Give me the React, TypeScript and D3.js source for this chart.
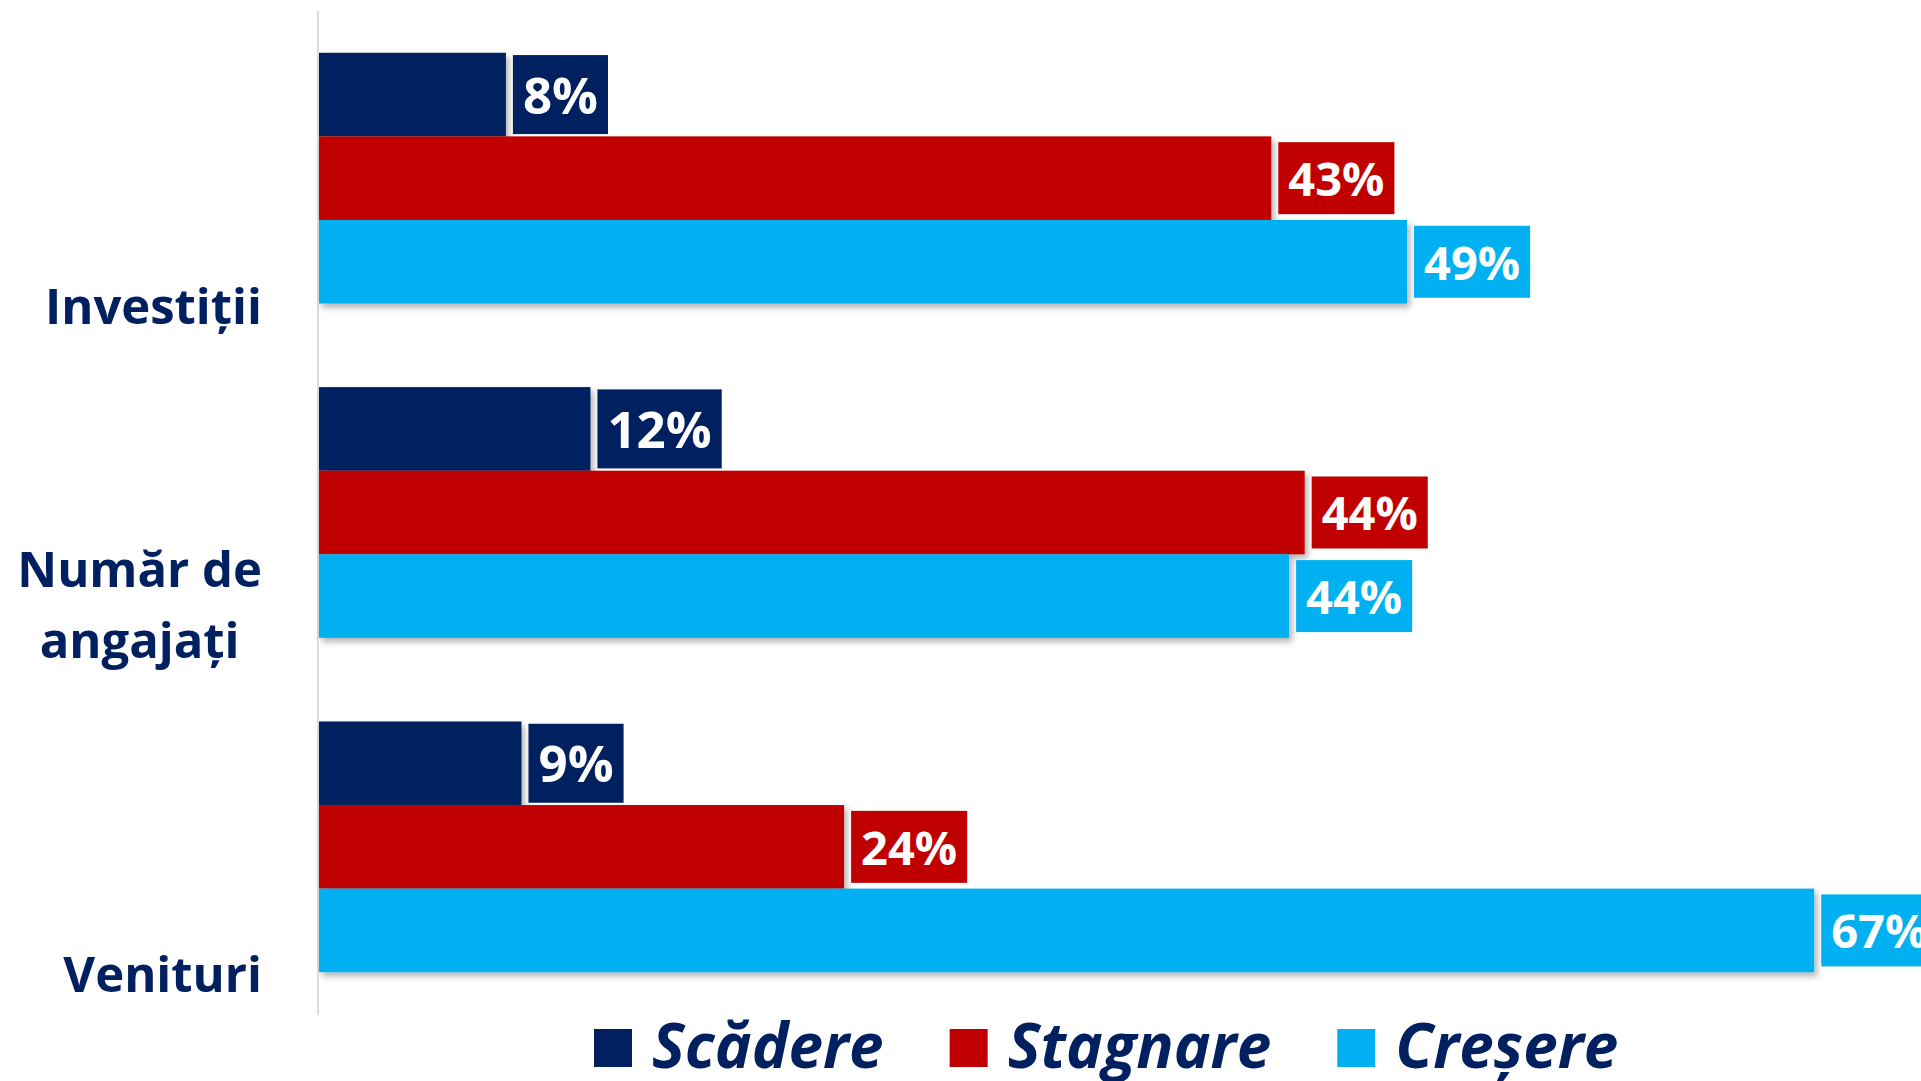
import React, { useEffect, useRef } from "react";
import * as d3 from "d3";

// ---- Data ----
const categories = ["Investiții", "Număr de angajați", "Venituri"];
const categoryLines = [["Investiții"], ["Număr de", "angajați"], ["Venituri"]];
const seriesNames = ["Scădere", "Stagnare", "Creșere"];
const scadere = [8.4, 12.2, 9.1];
const stagnare = [42.8, 44.3, 23.6];
const crestere = [48.9, 43.6, 67.2];
const seriesValues = [scadere, stagnare, crestere];

// ---- Style ----
const COLORS = ["#002060", "#C00000", "#00B0F0"];
const LABEL_FONT = [51, 47, 47];
const LABEL_BOX_H = [79, 72, 72];
const NAVY = "#002060";
const FONT = "'Open Sans', 'Noto Sans', sans-serif";

const W = 1921;
const H = 1081;

export default function App() {
  const ref = useRef<SVGSVGElement | null>(null);

  useEffect(() => {
    const svg = d3.select(ref.current);
    svg.selectAll("*").remove();

    const defs = svg.append("defs");
    const f = defs
      .append("filter")
      .attr("id", "shadow")
      .attr("x", "-5%")
      .attr("y", "-20%")
      .attr("width", "110%")
      .attr("height", "150%");
    f.append("feDropShadow")
      .attr("dx", 3)
      .attr("dy", 4)
      .attr("stdDeviation", 3)
      .attr("flood-color", "#000")
      .attr("flood-opacity", 0.3);

    const x = d3.scaleLinear().domain([0, 100]).range([319, 319 + 2225]);
    const y = d3
      .scaleBand<string>()
      .domain(categories)
      .range([11, 1014])
      .paddingInner(0.25)
      .paddingOuter(0.125);
    const inner = d3
      .scaleBand<string>()
      .domain(seriesNames)
      .range([0, y.bandwidth()])
      .padding(0);

    // axis line
    svg
      .append("line")
      .attr("x1", x(0) - 1)
      .attr("x2", x(0) - 1)
      .attr("y1", 11)
      .attr("y2", 1015)
      .attr("stroke", "#D9DDE3")
      .attr("stroke-width", 2);

    // bars
    seriesNames.forEach((s, si) => {
      const g = svg.append("g");
      g.selectAll("rect")
        .data(categories)
        .join("rect")
        .attr("x", x(0))
        .attr("y", (c) => (y(c) as number) + (inner(s) as number))
        .attr("width", (c, i) => x(seriesValues[si][i]) - x(0))
        .attr("height", inner.bandwidth())
        .attr("fill", COLORS[si])
        .attr("filter", "url(#shadow)");
    });

    // data labels
    seriesNames.forEach((s, si) => {
      categories.forEach((c, i) => {
        const v = seriesValues[si][i];
        const cy = (y(c) as number) + (inner(s) as number) + inner.bandwidth() / 2;
        const fs = LABEL_FONT[si];
        const bh = LABEL_BOX_H[si];
        const gx = x(v) + 7;
        const g = svg.append("g");
        const rect = g.append("rect").attr("fill", COLORS[si]);
        const t = g
          .append("text")
          .text(`${Math.round(v)}%`)
          .attr("font-family", FONT)
          .attr("font-weight", 700)
          .attr("font-size", fs)
          .attr("fill", "#fff")
          .attr("y", cy + fs * 0.357 + 1);
        const tw = (t.node() as SVGTextElement).getComputedTextLength();
        const pad = 10;
        rect
          .attr("x", gx)
          .attr("y", cy - bh / 2)
          .attr("width", tw + pad * 2)
          .attr("height", bh);
        t.attr("x", gx + pad);
      });
    });

    // category labels
    const labelRight = 262;
    categories.forEach((c, i) => {
      const lines = categoryLines[i];
      const bottom = (y(c) as number) + y.bandwidth();
      const texts = lines.map((ln, li) =>
        svg
          .append("text")
          .text(ln)
          .attr("font-family", FONT)
          .attr("font-weight", 700)
          .attr("font-size", 49)
          .attr("fill", NAVY)
          .attr("text-anchor", "middle")
          .attr("y", bottom + 20 - (lines.length - 1 - li) * 71)
      );
      const maxW = d3.max(texts, (t) => (t.node() as SVGTextElement).getComputedTextLength()) as number;
      texts.forEach((t) => t.attr("x", labelRight - maxW / 2));
    });

    // legend
    let lx = 594;
    seriesNames.forEach((s, si) => {
      svg
        .append("rect")
        .attr("x", lx)
        .attr("y", 1029)
        .attr("width", 38)
        .attr("height", 38)
        .attr("fill", COLORS[si]);
      const t = svg
        .append("text")
        .text(s)
        .attr("x", lx + 58)
        .attr("y", 1068)
        .attr("font-family", FONT)
        .attr("font-weight", 700)
        .attr("font-style", "italic")
        .attr("font-size", 62)
        .attr("fill", NAVY);
      const tw = (t.node() as SVGTextElement).getComputedTextLength();
      lx = lx + 58 + tw + 66;
    });
  }, []);

  return (
    <svg
      ref={ref}
      width={W}
      height={H}
      style={{ position: "fixed", left: 0, top: 0, background: "#fff" }}
    />
  );
}
